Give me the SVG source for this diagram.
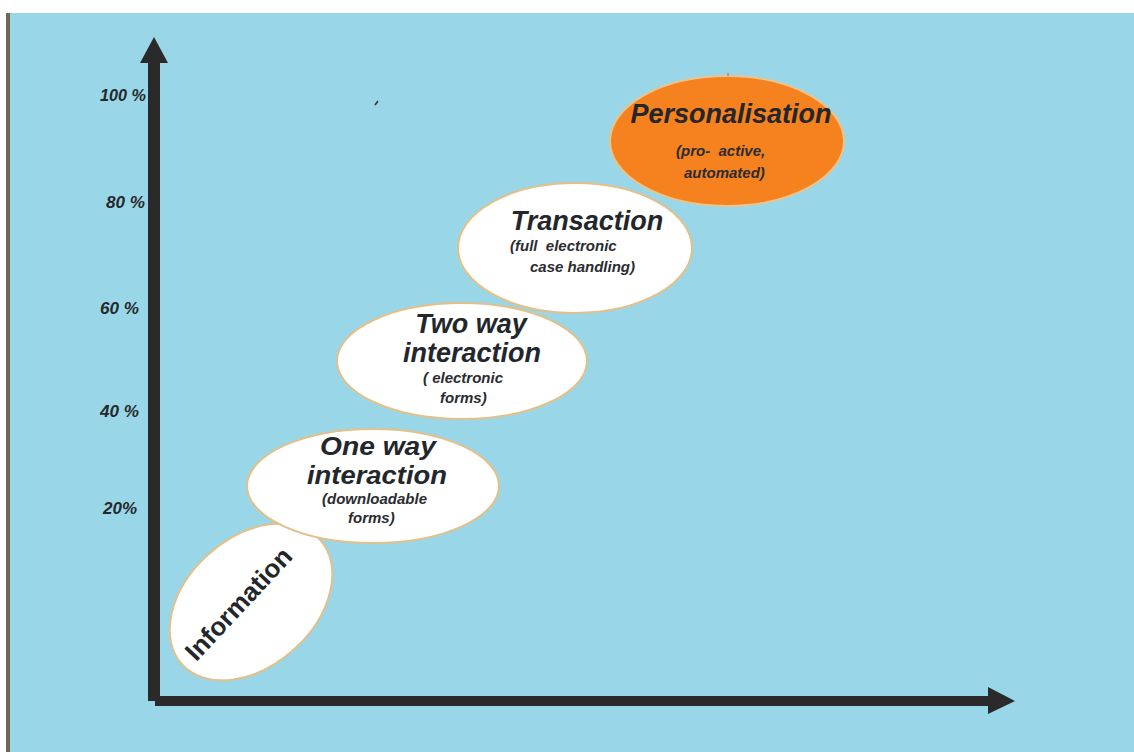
<svg xmlns="http://www.w3.org/2000/svg" width="1134" height="752" viewBox="0 0 1134 752">
  <style>
    .bubble { fill: #ffffff; stroke: #e3c08a; stroke-width: 2; }
    .bubble-hot { fill: #f6821f; stroke: #e9c48c; stroke-width: 2; }
    .title { font-family: "Liberation Sans", Arial, sans-serif; font-weight: bold; font-style: italic; font-size: 27px; fill: #23262b; text-anchor: middle; }
    .title2 { font-size: 26px; }
    .sub { font-family: "Liberation Sans", Arial, sans-serif; font-weight: bold; font-style: italic; font-size: 15px; fill: #2a2c30; }
    .tick { font-family: "Liberation Sans", Arial, sans-serif; font-weight: bold; font-style: italic; font-size: 17px; fill: #26282a; }
    .axis { fill: #2a2a2a; }
  </style>

  <!-- page and panel -->
  <rect x="0" y="0" width="1134" height="752" fill="#ffffff"/>
  <rect x="7" y="13" width="1127" height="739" fill="#99d7e8"/>
  <rect x="6" y="13" width="4" height="739" fill="#6e6852"/>

  <!-- axes -->
  <g id="axes">
    <rect class="axis" x="148" y="60" width="12" height="641"/>
    <polygon class="axis" points="154,37 168,63 140,63"/>
    <rect class="axis" x="155" y="696" width="835" height="10"/>
    <polygon class="axis" points="1015,701 988,687 988,714"/>
  </g>

  <!-- percentage scale -->
  <g id="scale">
    <text class="tick" x="100" y="101" textLength="46" lengthAdjust="spacingAndGlyphs">100 %</text>
    <text class="tick" x="106" y="208" textLength="39" lengthAdjust="spacingAndGlyphs">80 %</text>
    <text class="tick" x="100" y="314" textLength="39" lengthAdjust="spacingAndGlyphs">60 %</text>
    <text class="tick" x="100" y="417" textLength="39" lengthAdjust="spacingAndGlyphs">40 %</text>
    <text class="tick" x="103" y="514" textLength="34" lengthAdjust="spacingAndGlyphs">20%</text>
  </g>

  <!-- stray mark -->
  <path d="M375 105 L378 101" stroke="#333" stroke-width="1.5"/>

  <g id="information">
    <ellipse class="bubble" cx="0" cy="0" rx="93" ry="64" transform="translate(251,602) rotate(-42)"/>
    <text x="0" y="0" transform="translate(245,610) rotate(-47)" font-family="'Liberation Sans', Arial, sans-serif" font-weight="bold" font-size="26" fill="#23262b" text-anchor="middle">Information</text>
  </g>

  <g id="one-way">
    <ellipse class="bubble" cx="373" cy="486" rx="126" ry="57"/>
    <text class="title title2" x="378" y="455" textLength="116" lengthAdjust="spacingAndGlyphs">One way</text>
    <text class="title title2" x="377" y="484" textLength="140" lengthAdjust="spacingAndGlyphs">interaction</text>
    <text class="sub" x="322" y="504">(downloadable</text>
    <text class="sub" x="348" y="523">forms)</text>
  </g>

  <g id="two-way">
    <ellipse class="bubble" cx="462" cy="361" rx="125" ry="58"/>
    <text class="title" x="471" y="333">Two way</text>
    <text class="title" x="472" y="362">interaction</text>
    <text class="sub" x="423" y="383">( electronic</text>
    <text class="sub" x="440" y="403">forms)</text>
  </g>

  <g id="transaction">
    <ellipse class="bubble" cx="575" cy="248" rx="117" ry="65"/>
    <text class="title" x="587" y="230">Transaction</text>
    <text class="sub" x="510" y="251" xml:space="preserve">(full  electronic</text>
    <text class="sub" x="530" y="272">case handling)</text>
  </g>

  <g id="personalisation">
    <ellipse class="bubble-hot" cx="727" cy="141" rx="117" ry="65"/>
    <path d="M728 76 L728 73" stroke="#8a6a40" stroke-width="1"/>
    <text class="title" x="731" y="123">Personalisation</text>
    <text class="sub" x="676" y="156" xml:space="preserve">(pro-  active,</text>
    <text class="sub" x="684" y="178">automated)</text>
  </g>
</svg>
